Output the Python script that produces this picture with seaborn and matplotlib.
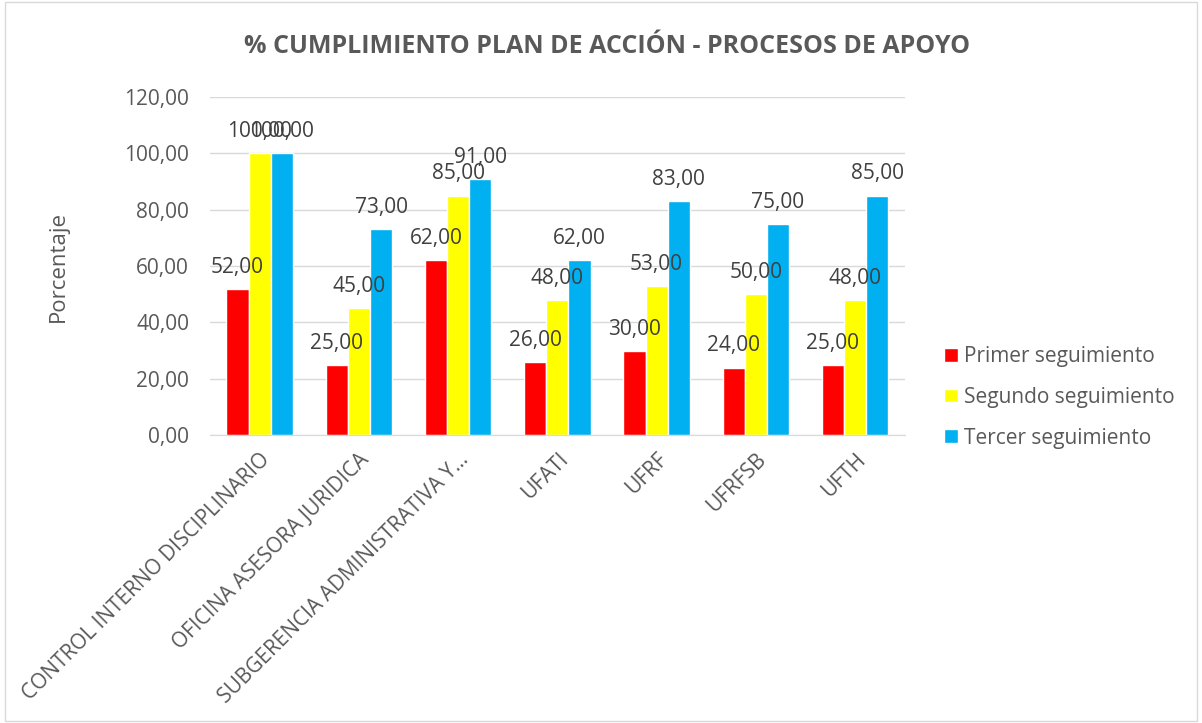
import pandas as pd
import numpy as np
import matplotlib.pyplot as plt
import seaborn as sns
from matplotlib.patches import Rectangle

categories = [
    "CONTROL INTERNO DISCIPLINARIO",
    "OFICINA ASESORA JURIDICA",
    "SUBGERENCIA ADMINISTRATIVA Y…",
    "UFATI",
    "UFRF",
    "UFRFSB",
    "UFTH",
]
primer = [52, 25, 62, 26, 30, 24, 25]
segundo = [100, 45, 85, 48, 53, 50, 48]
tercer = [100, 73, 91, 62, 83, 75, 85]
series = ["Primer seguimiento", "Segundo seguimiento", "Tercer seguimiento"]
colors = ["#ff0000", "#ffff00", "#00b0f0"]

df = pd.DataFrame({
    "cat": categories * 3,
    "serie": [series[0]] * 7 + [series[1]] * 7 + [series[2]] * 7,
    "valor": primer + segundo + tercer,
})

sns.set_style("white")
plt.rcParams["font.family"] = ["Open Sans", "DejaVu Sans"]
grey = "#595959"

fig = plt.figure(figsize=(12.02, 7.23), dpi=100)
ax = fig.add_axes([0.1747, 0.398, 0.578, 0.468])

sns.barplot(data=df, x="cat", y="valor", hue="serie", palette=colors,
            width=0.67, saturation=1, ax=ax, legend=True)

# etiquetas con coma decimal
for cont in ax.containers:
    ax.bar_label(cont, labels=[f"{v:.2f}".replace(".", ",") for v in cont.datavalues],
                 fontsize=15, color="#404040", padding=8)

ax.set_ylim(0, 120)
ax.set_yticks(np.arange(0, 121, 20))
ax.set_yticklabels([f"{v:.2f}".replace(".", ",") for v in np.arange(0, 121, 20)],
                   fontsize=15, color=grey)
ax.set_xticks(range(len(categories)))
ax.set_xticklabels(categories, rotation=45, ha="right", rotation_mode="anchor",
                   fontsize=15, color=grey)
ax.tick_params(axis="y", length=0, pad=15)
ax.tick_params(axis="x", length=0, pad=10)
ax.set_xlabel("")
ax.set_ylabel("Porcentaje", fontsize=16, color=grey, labelpad=40)
ax.yaxis.grid(True, color="#d9d9d9", linewidth=1)
ax.set_axisbelow(True)
for s in ["top", "right", "left"]:
    ax.spines[s].set_visible(False)
ax.spines["bottom"].set_color("#d9d9d9")

handles, labels = ax.get_legend_handles_labels()
ax.legend(handles, labels, loc="center left", bbox_to_anchor=(1.03, 0.112),
          frameon=False, fontsize=15, labelcolor=grey, handlelength=0.65,
          handleheight=0.65, handletextpad=0.3, labelspacing=0.95)

fig.text(0.505, 0.935, "% CUMPLIMIENTO PLAN DE ACCIÓN - PROCESOS DE APOYO",
         ha="center", va="center", fontsize=18, fontweight="bold", color=grey)

fig.patches.append(Rectangle((0.004, 0.003), 0.992, 0.994, transform=fig.transFigure,
                             fill=False, edgecolor="#d9d9d9", linewidth=1))

fig.savefig("out.png", dpi=100)
